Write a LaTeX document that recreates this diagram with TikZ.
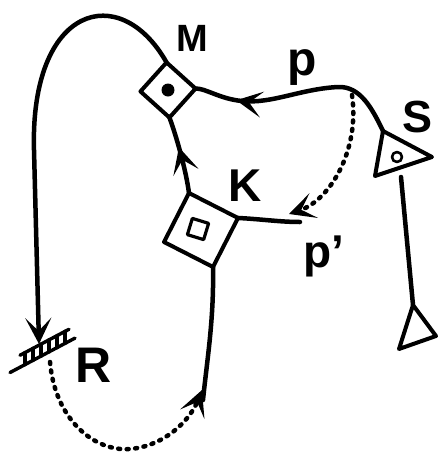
\documentclass[tikz,border=0pt]{standalone}
\usepackage{fontspec}
\setmainfont{Liberation Sans}
\usetikzlibrary{arrows.meta,decorations.markings}
\tikzset{arr/.tip={Stealth[length=26pt,width=26pt,inset=13pt]}}

\begin{document}
\begin{tikzpicture}[x=1pt,y=-1pt,line width=4.5pt,line cap=round,line join=round,
  box/.style={draw,line width=4pt,inner sep=0pt,outer sep=0pt},
  dots/.style={line width=4.5pt,dash pattern=on 2pt off 6.5pt},
  lab/.style={font=\fontsize{#1}{#1}\selectfont\bfseries},
  midarrow/.style={postaction={decorate},decoration={markings,mark=at position #1 with {\arrow{arr}}}}]
\useasboundingbox (0,0) rectangle (439,456);
\node[box,minimum size=39pt,rotate=-42] (M) at (168,90) {};
\node[circle,fill,minimum size=13pt,inner sep=0pt] (mdot) at (M.center) {};
\node[box,minimum size=55pt,rotate=-27] (K) at (201,230) {};
\node[box,line width=3.2pt,minimum size=17pt,rotate=-17] (kinner) at (198,229) {};
\coordinate (s1) at (383,131);
\coordinate (s2) at (432,157);
\coordinate (s3) at (375,176);
\draw[line width=4pt] (s1) -- (s2) -- (s3) -- cycle;
\node[circle,draw,line width=2.6pt,minimum size=10pt,inner sep=0pt] (sdot) at (397,157) {};
\coordinate (t1) at (413,305);
\coordinate (t2) at (436,336);
\coordinate (t3) at (399,349);
\draw[line width=4pt] (t1) -- (t2) -- (t3) -- cycle;
\coordinate (sfoot) at (401,177);
\draw (sfoot) -- (t1);
\coordinate (pfork) at (352,95);
\coordinate (pjoin) at (289,214);
\coordinate (kend) at (300,222);
\coordinate (kfoot) at (203,400);
\coordinate (kjoin) at (202,390);
\coordinate (rtop) at (39,344);
\coordinate (rbot) at (50,362);
\draw[midarrow=0.8] (s1) .. controls (372,108) and (360,86) .. (338,87) .. controls (300,89) and (272,104) .. (242,101) .. controls (220,99) and (205,88) .. (M.north east);
\draw[midarrow=0.6] (K.north west) .. controls (186,170) and (176,135) .. (M.south east);
\draw[-arr] (M.north west) .. controls (120,-20) and (30,5) .. (34,150) -- (rtop);
\draw (K.north east) .. controls (260,219) and (280,222) .. (kend);
\draw (K.south east) .. controls (214,320) and (207,360) .. (kfoot);
\draw[dots,-arr] (pfork) .. controls (360,150) and (330,200) .. (pjoin);
\draw[dots,-arr] (rbot) .. controls (55,420) and (95,452) .. (130,449) .. controls (165,446) and (190,420) .. (kjoin);
\begin{scope}[shift={(45,348)},line width=3.4pt]
\draw (-25,{-6+0.53*25}) -- (24,{-6-0.53*24});
\draw (-35,{6+0.53*35}) -- (30,{6-0.53*30});
\foreach \x in {-20,-12,...,20} { \draw (\x,{-6-0.53*\x}) -- (\x,{6-0.53*\x}); }
\end{scope}
\node[lab=38] (Mlab) at (192,38) {M};
\node[lab=48] (plab) at (302,68) {p};
\node[lab=45] (Slab) at (418,117) {S};
\node[lab=46] (Klab) at (245,186) {K};
\node[lab=46] (pplab) at (324,256) {p'};
\node[lab=50] (Rlab) at (94,365) {R};
\end{tikzpicture}
\end{document}
